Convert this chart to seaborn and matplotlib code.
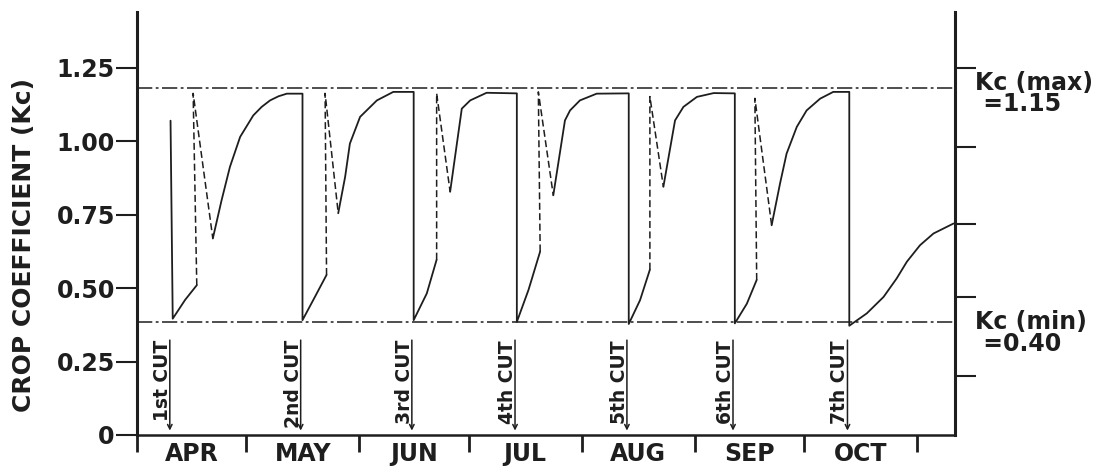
import matplotlib
matplotlib.use('Agg')
import matplotlib.pyplot as plt
import seaborn as sns

# month axis (days from 1 April)
months = ['APR', 'MAY', 'JUN', 'JUL', 'AUG', 'SEP', 'OCT']
month_start = [0, 30, 61, 91, 122, 153, 183, 214]
month_mid = [15, 45.5, 76, 106.5, 137.5, 168, 198.5]

kc_ticks = [0, 0.25, 0.5, 0.75, 1.0, 1.25]
kc_tick_labels = ['0', '0.25', '0.50', '0.75', '1.00', '1.25']
right_ticks = [1.25, 0.98, 0.72, 0.47, 0.20]

kc_max_line = 1.18
kc_min_line = 0.385

cut_labels = ['1st CUT', '2nd CUT', '3rd CUT', '4th CUT', '5th CUT', '6th CUT', '7th CUT']
cut_day = [9.5, 45.4, 75.9, 104.2, 134.9, 164.0, 195.4]

# solid regrowth right after each cut (last one runs to end of chart)
regrow_day = [
    [9.2, 9.8, 13.2, 16.4],
    [45.4, 48.8, 52.0],
    [75.9, 79.5, 82.2],
    [104.2, 107.4, 110.6],
    [134.9, 138.0, 140.7],
    [164.0, 167.3, 170.0],
    [195.4, 200.2, 204.8, 208.4, 211.2, 214.8, 218.5, 224.0],
]
regrow_kc = [
    [1.07, 0.396, 0.46, 0.51],
    [0.391, 0.47, 0.545],
    [0.391, 0.482, 0.597],
    [0.385, 0.494, 0.625],
    [0.378, 0.459, 0.563],
    [0.38, 0.447, 0.528],
    [0.372, 0.414, 0.47, 0.533, 0.59, 0.646, 0.686, 0.72],
]

# dashed jump up and drop down
peak_day = [15.4, 51.6, 82.2, 110.1, 140.7, 169.5]
peak_kc = [1.163, 1.163, 1.163, 1.168, 1.152, 1.146]
dip_day = [20.8, 55.2, 85.9, 114.2, 144.4, 174.1]
dip_kc = [0.669, 0.755, 0.828, 0.816, 0.845, 0.714]

# solid growth from dip to the plateau before the next cut
grow_day = [
    [23.2, 25.5, 28.3, 31.9, 34.2, 36.5, 38.8, 41.1, 45.4],
    [57.1, 58.4, 61.2, 65.8, 70.3, 75.9],
    [89.1, 91.4, 95.9, 104.2],
    [117.4, 118.8, 121.5, 126.1, 134.9],
    [147.6, 149.9, 153.6, 158.2, 164.0],
    [176.4, 178.2, 181.0, 183.7, 187.4, 191.0, 195.4],
]
grow_kc = [
    [0.799, 0.913, 1.015, 1.088, 1.117, 1.139, 1.153, 1.162, 1.162],
    [0.879, 0.992, 1.083, 1.139, 1.168, 1.168],
    [1.111, 1.139, 1.165, 1.163],
    [1.071, 1.105, 1.139, 1.162, 1.163],
    [1.071, 1.117, 1.151, 1.164, 1.163],
    [0.856, 0.958, 1.049, 1.105, 1.145, 1.168, 1.168],
]

ink = '#1e1e1e'
sns.set_style('ticks')
plt.rcParams['font.family'] = ['DejaVu Sans']
plt.rcParams['lines.scale_dashes'] = False

fig = plt.figure(figsize=(11.02, 4.67), dpi=100)
ax = fig.add_axes([137 / 1102, 32 / 467, 818 / 1102, 423 / 467])

# curves
sns.lineplot(x=regrow_day[0], y=regrow_kc[0], sort=False, estimator=None,
             color=ink, lw=1.3, ax=ax)
for i in range(6):
    xs = [regrow_day[i][-1], peak_day[i], dip_day[i]]
    ys = [regrow_kc[i][-1], peak_kc[i], dip_kc[i]]
    sns.lineplot(x=xs, y=ys, sort=False, estimator=None, color=ink, lw=1.1,
                 linestyle=(0, (5, 2.5)), ax=ax)
    xs = [dip_day[i]] + grow_day[i] + regrow_day[i + 1]
    ys = [dip_kc[i]] + grow_kc[i] + regrow_kc[i + 1]
    sns.lineplot(x=xs, y=ys, sort=False, estimator=None, color=ink, lw=1.3, ax=ax)

# Kc max / min reference lines
dashdot = (0, (11, 2.5, 2, 2.5))
ax.axhline(kc_max_line, color=ink, lw=1.1, linestyle=dashdot)
ax.axhline(kc_min_line, color=ink, lw=1.1, linestyle=dashdot)

# cut labels with underline arrows
for d, lab in zip(cut_day, cut_labels):
    ax.text(d - 2.6, 0.323, lab, rotation=90, va='top', ha='center',
            fontsize=13.5, fontweight='bold', color=ink)
    ax.annotate('', xy=(d - 0.5, 0.015), xytext=(d - 0.5, 0.323),
                arrowprops=dict(arrowstyle='->', lw=1.1, color=ink,
                                shrinkA=0, shrinkB=0, mutation_scale=8))

ax.set_xlim(0, 224.4)
ax.set_ylim(0, 1.44)

ax.set_xticks(month_start)
ax.set_xticklabels([])
ax.set_xticks(month_mid, minor=True)
ax.set_xticklabels(months, minor=True, fontsize=17, fontweight='bold', color=ink)
ax.tick_params(axis='x', which='major', direction='out', length=12, width=2, color=ink)
ax.tick_params(axis='x', which='minor', length=0, pad=5)

ax.set_yticks(kc_ticks)
ax.set_yticklabels(kc_tick_labels, fontsize=17, fontweight='bold', color=ink)
ax.tick_params(axis='y', direction='out', length=15, width=1.5, pad=1, color=ink)

ax.set_ylabel('CROP COEFFICIENT (Kc)', fontsize=18, fontweight='bold', color=ink)
ax.yaxis.set_label_coords(-0.124, 0.449)

for s in ['top', 'right']:
    ax.spines[s].set_visible(False)
ax.spines['left'].set_linewidth(2.2)
ax.spines['bottom'].set_linewidth(1.8)
ax.spines['left'].set_color(ink)
ax.spines['bottom'].set_color(ink)

ax2 = ax.twinx()
ax2.set_ylim(ax.get_ylim())
ax2.set_yticks(right_ticks)
ax2.set_yticklabels([])
ax2.tick_params(axis='y', direction='out', length=15, width=1.5, color=ink)
for s in ['top', 'left', 'bottom']:
    ax2.spines[s].set_visible(False)
ax2.spines['right'].set_linewidth(2.2)
ax2.spines['right'].set_color(ink)

tr = ax.get_yaxis_transform()
ax.text(1.0244, 1.163, 'Kc (max)\n =1.15', transform=tr, va='center', ha='left',
        fontsize=17, fontweight='bold', color=ink, linespacing=0.85)
ax.text(1.0244, 0.347, 'Kc (min)\n =0.40', transform=tr, va='center', ha='left',
        fontsize=17, fontweight='bold', color=ink, linespacing=0.85)

fig.savefig('out.png', dpi=100)
